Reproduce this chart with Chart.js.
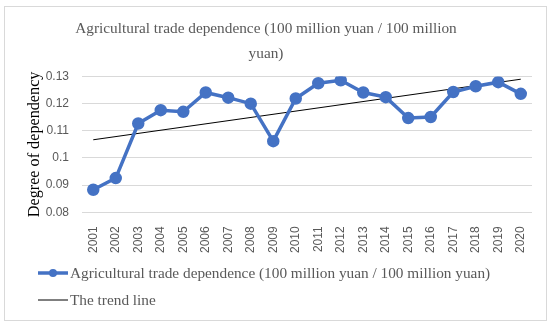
<!DOCTYPE html>
<html>
<head>
<meta charset="utf-8">
<script src="https://cdn.jsdelivr.net/npm/chart.js@4/dist/chart.umd.min.js"></script>
<style>
    html, body { margin: 0; padding: 0; background: #fff; }
    #wrap { position: relative; width: 550px; height: 326px; }
    #frame { position: absolute; left: 4px; top: 6px; width: 541px; height: 313px; border: 1px solid #d9d9d9; }
    canvas { position: absolute; left: 0; top: 0; }
</style>
</head>
<body>
<div id="wrap">
    <div id="frame"></div>
    <canvas id="chart" width="550" height="326"></canvas>
</div>
<script>
// Data
const years = ['2001', '2002', '2003', '2004', '2005', '2006', '2007', '2008', '2009', '2010',
               '2011', '2012', '2013', '2014', '2015', '2016', '2017', '2018', '2019', '2020'];
const dependence = [0.0883, 0.0926, 0.1127, 0.1176, 0.1170, 0.1241, 0.1222, 0.1200, 0.1062, 0.1219,
                    0.1275, 0.1286, 0.1241, 0.1224, 0.1147, 0.1151, 0.1243, 0.1264, 0.1279, 0.1236];
const trendYears = ['2001', '2020'];
const trendValues = [0.1067, 0.1290];
const yTicks = [0.08, 0.09, 0.10, 0.11, 0.12, 0.13];

const seriesLabel = 'Agricultural trade dependence (100 million yuan / 100 million yuan)';
const trendLabel = 'The trend line';
const titleLines = ['Agricultural trade dependence (100 million yuan / 100 million', 'yuan)'];
const yTitle = 'Degree of dependency';

const SERIF = '"Liberation Serif", "DejaVu Serif", serif';
const SANS = '"Liberation Sans", Arial, sans-serif';
const GREY_TEXT = '#595959';

// Excel-like legend: one row per dataset, line sample (with marker) then label
const excelLegend = {
    id: 'excelLegend',
    afterDraw(chart, args, opts) {
        const ctx = chart.ctx;
        ctx.save();
        ctx.font = opts.font;
        ctx.textBaseline = 'middle';
        chart.data.datasets.forEach((ds, i) => {
            const y = opts.top + i * opts.rowGap;
            const x0 = opts.left;
            const x1 = opts.left + opts.sample;
            ctx.strokeStyle = ds.borderColor;
            ctx.lineWidth = ds.borderWidth;
            ctx.beginPath();
            ctx.moveTo(x0, y);
            ctx.lineTo(x1, y);
            ctx.stroke();
            if (ds.pointRadius) {
                ctx.fillStyle = ds.pointBackgroundColor;
                ctx.beginPath();
                ctx.arc((x0 + x1) / 2, y, ds.pointRadius - 0.5, 0, Math.PI * 2);
                ctx.fill();
            }
            ctx.fillStyle = opts.color;
            ctx.fillText(ds.label, x1 + 2, y + 1);
        });
        ctx.restore();
    }
};

new Chart(document.getElementById('chart'), {
    type: 'line',
    data: {
        labels: years,
        datasets: [
            {
                label: seriesLabel,
                data: dependence,
                borderColor: '#4472C4',
                backgroundColor: '#4472C4',
                pointBackgroundColor: '#4472C4',
                pointBorderColor: '#4472C4',
                borderWidth: 3.5,
                pointRadius: 4.5,
                tension: 0,
                fill: false
            },
            {
                label: trendLabel,
                data: trendYears.map((y, i) => ({ x: y, y: trendValues[i] })),
                borderColor: '#000000',
                backgroundColor: '#000000',
                borderWidth: 1,
                pointRadius: 0,
                tension: 0,
                fill: false
            }
        ]
    },
    options: {
        responsive: false,
        animation: false,
        layout: { padding: { left: 0, right: 18, top: 10, bottom: 67 } },
        plugins: {
            legend: { display: false },
            tooltip: { enabled: false },
            title: {
                display: true,
                text: titleLines,
                color: GREY_TEXT,
                font: { family: SERIF, size: 15.3, weight: 'normal', lineHeight: 1.65 },
                padding: { top: 6, bottom: 10 }
            },
            excelLegend: {
                left: 38,
                sample: 30,
                top: 273,
                rowGap: 27,
                font: '15.3px ' + SERIF,
                color: GREY_TEXT
            }
        },
        scales: {
            x: {
                offset: true,
                grid: { display: false },
                border: { display: false },
                ticks: {
                    autoSkip: false,
                    maxRotation: 90,
                    minRotation: 90,
                    color: GREY_TEXT,
                    font: { family: SANS, size: 12 },
                    padding: 6
                }
            },
            y: {
                min: yTicks[0],
                max: yTicks[yTicks.length - 1],
                afterBuildTicks: axis => { axis.ticks = yTicks.map(v => ({ value: v })); },
                afterFit: axis => { axis.width = 82; },
                grid: { color: '#d9d9d9', lineWidth: 1, drawTicks: false },
                border: { display: false },
                ticks: {
                    color: GREY_TEXT,
                    font: { family: SANS, size: 12 },
                    padding: 13,
                    callback: v => String(+v.toFixed(2))
                },
                title: {
                    display: true,
                    text: yTitle,
                    color: '#000000',
                    font: { family: SERIF, size: 16.2 },
                    padding: { top: 25, bottom: 0 }
                }
            }
        }
    },
    plugins: [excelLegend]
});
</script>
</body>
</html>
